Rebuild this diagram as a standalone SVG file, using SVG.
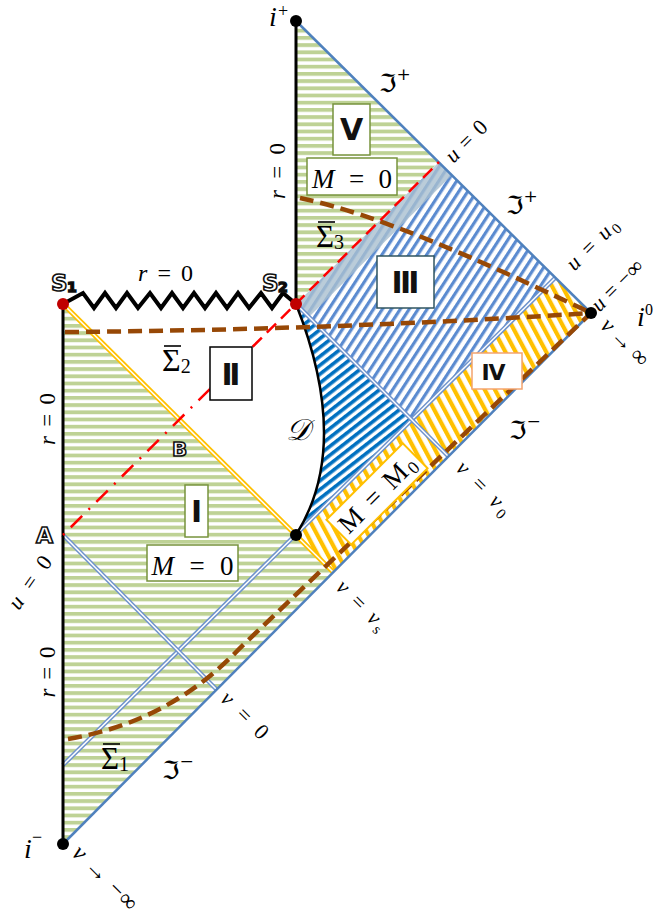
<svg xmlns="http://www.w3.org/2000/svg" width="656" height="916" viewBox="0 0 656 916">
<defs>
<pattern id="pg" width="8" height="7.2" patternUnits="userSpaceOnUse"><rect width="8" height="7.2" fill="#fff"/><rect width="8" height="3.8" fill="#bed295"/></pattern>
<pattern id="pb" width="7.5" height="8" patternUnits="userSpaceOnUse" patternTransform="rotate(33)"><rect width="7.5" height="8" fill="#fff"/><rect width="3.2" height="8" fill="#5b8bd0"/></pattern>
<pattern id="pd" width="7" height="8" patternUnits="userSpaceOnUse" patternTransform="rotate(52)"><rect width="7" height="8" fill="#fff"/><rect width="3.6" height="8" fill="#0070c0"/></pattern>
<pattern id="py" width="9" height="8" patternUnits="userSpaceOnUse" patternTransform="rotate(-28)"><rect width="9" height="8" fill="#fff"/><rect width="4.2" height="8" fill="#ffc000"/></pattern>
</defs>
<style>
.m{font-family:"Liberation Serif",serif;fill:#000}
.i{font-style:italic}
.fr{font-family:"DejaVu Serif","DejaVu Sans",serif;fill:#000}
.rl{font-family:"DejaVu Sans",sans-serif;font-weight:bold;fill:#111;text-anchor:middle}
.ol{font-family:"DejaVu Sans",sans-serif;font-weight:bold;fill:#fff;stroke:#111;stroke-width:1.6}
.bx{fill:#fff;stroke-width:1.5}
.br{fill:none;stroke:#974806;stroke-width:4.5;stroke-dasharray:14 7}
.jl{stroke:#4f81bd;stroke-width:2.5;fill:none}
.db{stroke:#6f93cc;stroke-width:4.5;fill:none}
.dy{stroke:#ffc000;stroke-width:5;fill:none}
.dw{stroke:#fff;stroke-width:1.5;fill:none}
.bk{stroke:#000;stroke-width:3;fill:none}
.ob{stroke:#000;stroke-width:1.6}
</style>
<rect width="656" height="916" fill="#fff"/>

<g id="regions">
<path id="region-I" d="M63,844 L63,304 L333,572 Z" fill="url(#pg)"/>
<path id="region-V" d="M296,304 L296,21 L439,162 Z" fill="url(#pg)"/>
<path id="region-III" d="M296,304 L439,162 L555,278 L412,420 Z" fill="url(#pb)"/>
<path id="region-D" d="M296,304 L412,420 L296,535 C340,465 326,380 296,304 Z" fill="url(#pd)"/>
<path id="region-IV" d="M296,535 L555,278 L591,313 L333,572 Z" fill="url(#py)"/>
<path id="band" d="M296,304 L439,162 L452,175 L309,317 Z" fill="#a9bfcf" fill-opacity="0.8"/>
</g>

<g id="connectors">
<line class="db" x1="63" y1="765" x2="555" y2="278"/><line class="dw" x1="63" y1="765" x2="555" y2="278"/>
<line class="db" x1="296" y1="304" x2="448" y2="456"/><line class="dw" x1="296" y1="304" x2="448" y2="456"/>
<line class="db" x1="63" y1="535" x2="217" y2="690"/><line class="dw" x1="63" y1="535" x2="217" y2="690"/>
<line class="dy" x1="63" y1="304" x2="333" y2="572"/><line class="dw" x1="63" y1="304" x2="333" y2="572"/>
<line class="jl" x1="296" y1="21" x2="591" y2="313"/>
<line class="jl" x1="63" y1="844" x2="591" y2="313"/>
<line class="bk" x1="63" y1="844" x2="63" y2="304"/>
<line class="bk" x1="296" y1="304" x2="296" y2="21"/>
<path d="M296,304 C326,380 340,465 296,535" stroke="#000" stroke-width="2.5" fill="none"/>
<path d="M63,304 L83,293 L94,308 L105,293 L116,308 L127,293 L138,308 L150,293 L161,308 L172,293 L183,308 L194,293 L205,308 L216,293 L227,308 L238,293 L249,308 L261,293 L272,308 L283,293 L296,304" stroke="#000" stroke-width="4" fill="none"/>
<path class="br" d="M65,332 Q330,330 591,313"/>
<path class="br" d="M300,198 C380,215 480,260 591,313"/>
<path class="br" d="M68,739 Q170,722 240,648 L591,313"/>
<line x1="63" y1="535" x2="210" y2="389" stroke="#ff0000" stroke-width="2.5" stroke-dasharray="2 9 16 9"/>
<line x1="210" y1="389" x2="439" y2="162" stroke="#ff0000" stroke-width="2.5" stroke-dasharray="13 7"/>
</g>

<g id="node-V"><rect class="bx" x="333" y="104" width="37" height="51" stroke="#77933c"/><text class="rl" x="351.5" y="140" font-size="30">V</text></g>
<g id="node-V-M"><rect class="bx" x="307" y="158" width="90" height="37" stroke="#77933c"/><text class="m" x="352" y="188" font-size="27" text-anchor="middle" textLength="80"><tspan class="i">M</tspan> = 0</text></g>
<g id="node-II"><rect class="bx" x="210" y="347" width="42" height="53" stroke="#000"/><text class="rl" x="231" y="385" font-size="30" textLength="19">II</text></g>
<g id="node-III"><rect class="bx" x="377" y="256" width="57" height="52" stroke="#2f5460"/><text class="rl" x="405.5" y="293" font-size="30" textLength="28">III</text></g>
<g id="node-I"><rect class="bx" x="185" y="485" width="23" height="52" stroke="#77933c"/><text class="rl" x="196.5" y="522" font-size="30">I</text></g>
<g id="node-I-M"><rect class="bx" x="147" y="545" width="91" height="36" stroke="#77933c"/><text class="m" x="192.5" y="575" font-size="27" text-anchor="middle" textLength="82"><tspan class="i">M</tspan> = 0</text></g>
<g id="node-IV"><rect class="bx" x="472" y="353" width="50" height="36" stroke="#f4a46e"/><text class="rl" x="493" y="380" font-size="22" letter-spacing="-1">IV</text></g>
<g id="node-M0" transform="translate(377,494) rotate(-45)"><rect x="-54" y="-17.5" width="108" height="35" fill="#fff" stroke="#ffc000" stroke-width="2"/><text class="m" x="0" y="9" font-size="27" text-anchor="middle" textLength="98">M = M<tspan font-size="18" dy="4">0</tspan></text></g>

<g id="points">
<circle cx="296" cy="21" r="6" fill="#000"/>
<circle cx="63" cy="844" r="6" fill="#000"/>
<circle cx="591" cy="313" r="6" fill="#000"/>
<circle cx="296" cy="535" r="6" fill="#000"/>
<circle cx="63" cy="304" r="6" fill="#c00000"/>
<circle cx="296" cy="304" r="6" fill="#c00000"/>
</g>

<g id="labels">
<text class="m i" x="269" y="26" font-size="28">i</text><text class="m" x="278" y="17" font-size="18">+</text>
<text class="m i" x="24" y="858" font-size="28">i</text><text class="m" x="32" y="843" font-size="18">−</text>
<text class="m i" x="637" y="326" font-size="28">i</text><text class="m" x="645" y="315" font-size="16">0</text>
<text class="fr" x="379" y="92" font-size="25">ℑ<tspan font-size="17" dy="-12">+</tspan></text>
<text class="fr" x="506" y="214" font-size="25">ℑ<tspan font-size="17" dy="-12">+</tspan></text>
<text class="fr" x="509" y="439" font-size="25">ℑ<tspan font-size="17" dy="-12">−</tspan></text>
<text class="fr" x="162" y="779" font-size="25">ℑ<tspan font-size="17" dy="-12">−</tspan></text>
<text class="m" x="138" y="281" font-size="24" textLength="55"><tspan class="i">r</tspan> = 0</text>
<text class="m" transform="translate(49,419) rotate(-90)" y="6" font-size="23" text-anchor="middle" textLength="52"><tspan class="i">r</tspan> = 0</text>
<text class="m" transform="translate(49,672) rotate(-90)" y="6" font-size="23" text-anchor="middle" textLength="51"><tspan class="i">r</tspan> = 0</text>
<text class="m" transform="translate(279,171) rotate(-90)" y="6" font-size="23" text-anchor="middle" textLength="56"><tspan class="i">r</tspan> = 0</text>
<text class="m" transform="translate(467,142) rotate(-45)" y="6" font-size="22" text-anchor="middle" textLength="50"><tspan class="i">u</tspan> = 0</text>
<text class="m" transform="translate(593,245) rotate(-45)" y="6" font-size="22" text-anchor="middle" textLength="64"><tspan class="i">u</tspan> = <tspan class="i">u</tspan><tspan font-size="15" dy="4">0</tspan></text>
<text class="m" transform="translate(618,286) rotate(-45)" y="6" font-size="22" text-anchor="middle" textLength="64"><tspan class="i">u</tspan> = −∞</text>
<text class="m" transform="translate(624,343) rotate(45)" y="6" font-size="23" text-anchor="middle" textLength="58"><tspan class="i">v</tspan> → ∞</text>
<text class="m" transform="translate(104,879) rotate(45)" y="6" font-size="24" text-anchor="middle" textLength="82"><tspan class="i">v</tspan> → −∞</text>
<text class="m" transform="translate(244,716) rotate(45)" y="6" font-size="22" text-anchor="middle" textLength="58"><tspan class="i">v</tspan> = 0</text>
<text class="m" transform="translate(361,606) rotate(45)" y="6" font-size="22" text-anchor="middle" textLength="62"><tspan class="i">v</tspan> = <tspan class="i">v</tspan><tspan font-size="15" dy="4">s</tspan></text>
<text class="m" transform="translate(483,489) rotate(45)" y="6" font-size="22" text-anchor="middle" textLength="68"><tspan class="i">v</tspan> = <tspan class="i">v</tspan><tspan font-size="15" dy="4">0</tspan></text>
<text class="m" transform="translate(31,583) rotate(-55)" y="6" font-size="22" text-anchor="middle" textLength="60"><tspan class="i">u</tspan> = 0</text>
<text class="m" x="162" y="371" font-size="32">Σ<tspan font-size="20" dy="2">2</tspan></text><line class="ob" x1="164" y1="346" x2="181" y2="346"/>
<text class="m" x="316" y="247" font-size="31">Σ<tspan font-size="20" dy="2">3</tspan></text><line class="ob" x1="318" y1="222" x2="335" y2="222"/>
<text class="m" x="101" y="769" font-size="31">Σ<tspan font-size="20" dy="2">1</tspan></text><line class="ob" x1="103" y1="744" x2="120" y2="744"/>
<text class="m i" x="286" y="440" font-size="30">𝒟</text>
<text class="ol" x="51" y="291" font-size="23">S</text><text class="ol" x="67" y="292" font-size="14" style="fill:#000">1</text>
<text class="ol" x="262" y="291" font-size="23">S</text><text class="ol" x="278" y="292" font-size="14" style="fill:#000">2</text>
<text class="ol" x="36" y="543" font-size="22">A</text>
<text class="ol" x="172" y="456" font-size="20">B</text>
</g>
</svg>
